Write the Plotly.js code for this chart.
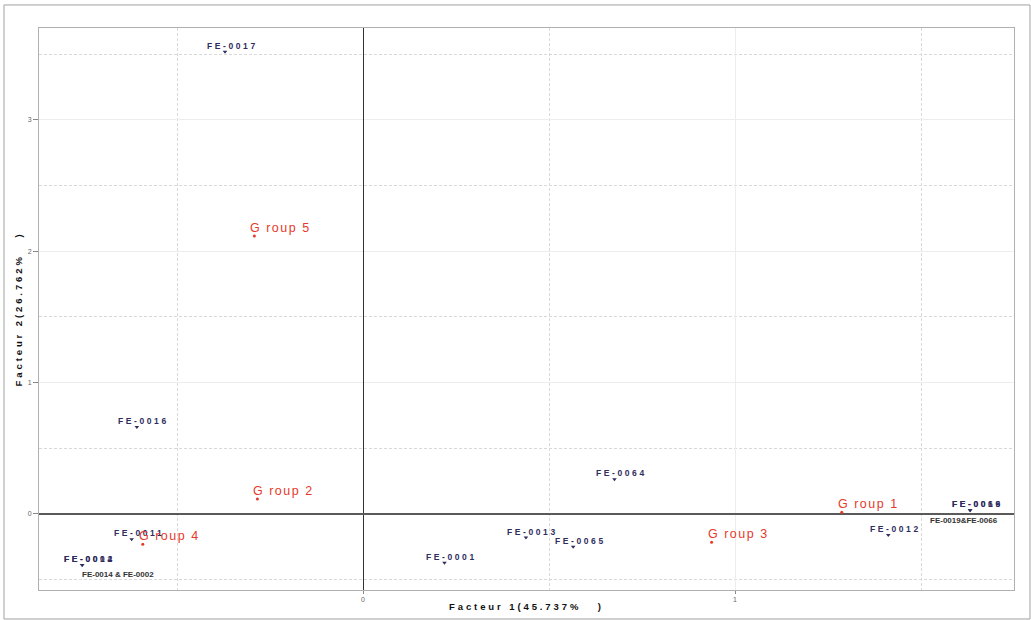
<!DOCTYPE html>
<html>
<head>
<meta charset="utf-8">
<script src="https://cdn.plot.ly/plotly-3.0.1.min.js"></script>
<style>
  html, body { margin: 0; padding: 0; background: #ffffff; }
  #chart { width: 1031px; height: 620px; }
  .xtitle, .ytitle { letter-spacing: 2.9px; }
</style>
</head>
<body>
<div id="chart"></div>
<script>
// Individuals projected on the first factorial plane
const individualLabels = ['FE-0017', 'FE-0016', 'FE-0011', 'FE-0014', 'FE-0002', 'FE-0001',
                          'FE-0013', 'FE-0065', 'FE-0064', 'FE-0012', 'FE-0019', 'FE-0066'];
const individualF1 = [-0.371, -0.608, -0.622, -0.755, -0.755, 0.219,
                       0.438,  0.565,  0.676,  1.412,  1.632, 1.632];
const individualF2 = [ 3.519,  0.662, -0.193, -0.388, -0.388, -0.371,
                      -0.180, -0.249,  0.264, -0.160,  0.028, 0.028];

// Group centres
const groupLabels = ['G roup 1', 'G roup 2', 'G roup 3', 'G roup 4', 'G roup 5'];
const groupF1 = [1.287, -0.284, 0.937, -0.592, -0.292];
const groupF2 = [0.013,  0.114, -0.216, -0.231, 2.117];

// Notes naming individuals that share the same position
const noteLabels = ['FE-0014 & FE-0002', 'FE-0019&FE-0066'];
const noteAnchors = ['FE-0014', 'FE-0019'];

// Axis ticks and titles
const xTickValues = [0, 1];
const yTickValues = [0, 1, 2, 3];
const xTitle = 'Facteur 1(45.737%\u00a0\u00a0\u00a0)';
const yTitle = 'Facteur 2(26.762%\u00a0\u00a0\u00a0)';

const navy = '#2e2d5e';
const red = '#e5392c';

const traces = [
  {
    type: 'scatter', mode: 'markers',
    x: individualF1, y: individualF2, text: individualLabels,
    marker: { symbol: 'triangle-down', size: 4, color: navy },
    hoverinfo: 'text', cliponaxis: false
  },
  {
    type: 'scatter', mode: 'markers',
    x: groupF1, y: groupF2, text: groupLabels,
    marker: { symbol: 'circle', size: 3, color: red },
    hoverinfo: 'text', cliponaxis: false
  }
];

const annotations = [];
individualLabels.forEach((lab, i) => {
  annotations.push({
    x: individualF1[i], y: individualF2[i], text: lab, showarrow: false,
    xanchor: 'center', yanchor: 'middle', xshift: 7, yshift: 6,
    font: { family: 'Liberation Sans, Arial, sans-serif', size: 8.5, color: navy, weight: 'bold' }
  });
});
groupLabels.forEach((lab, i) => {
  annotations.push({
    x: groupF1[i], y: groupF2[i], text: lab, showarrow: false,
    xanchor: 'center', yanchor: 'middle', xshift: 26.5, yshift: 8,
    font: { family: 'Liberation Sans, Arial, sans-serif', size: 12.5, color: red }
  });
});
noteLabels.forEach((lab, i) => {
  const k = individualLabels.indexOf(noteAnchors[i]);
  annotations.push({
    x: individualF1[k], y: individualF2[k], text: lab, showarrow: false,
    xanchor: 'center', yanchor: 'middle', xshift: i === 0 ? 36 : -6, yshift: -10,
    font: { family: 'Liberation Sans, Arial, sans-serif', size: 8, color: '#333333', weight: 'bold' }
  });
});

// Letter spacing per annotation kind (annotation groups carry data-index)
const nInd = individualLabels.length, nGrp = groupLabels.length;
let css = '';
for (let i = 0; i < nInd; i++) css += `.annotation[data-index="${i}"] .annotation-text{letter-spacing:2.6px;}`;
for (let i = nInd; i < nInd + nGrp; i++) css += `.annotation[data-index="${i}"] .annotation-text{letter-spacing:1.5px;}`;
const styleEl = document.createElement('style');
styleEl.textContent = css;
document.head.appendChild(styleEl);

const gridMinor = { dtick: 0.5, showgrid: true, gridcolor: '#d9d9d9', griddash: '3px,2px', gridwidth: 1, ticks: '' };

const layout = {
  width: 1031, height: 620,
  margin: { l: 39, r: 17, t: 28, b: 30 },
  paper_bgcolor: '#ffffff', plot_bgcolor: '#ffffff',
  showlegend: false,
  font: { family: 'Liberation Sans, Arial, sans-serif', color: '#666666' },
  xaxis: {
    range: [-0.871, 1.750], tickvals: xTickValues, ticktext: xTickValues.map(String),
    showgrid: true, gridcolor: '#ededed', gridwidth: 1,
    minor: gridMinor,
    zeroline: true, zerolinecolor: '#333333', zerolinewidth: 1,
    showline: true, mirror: true, linecolor: '#b0b0b0', linewidth: 1,
    ticks: 'outside', ticklen: 3, tickcolor: '#888888',
    tickfont: { size: 7, color: '#666666' },
    title: { text: xTitle, standoff: 0,
             font: { family: 'Liberation Sans, Arial, sans-serif', size: 9.5, color: '#111111', weight: 'bold' } }
  },
  yaxis: {
    range: [-0.579, 3.700], tickvals: yTickValues, ticktext: yTickValues.map(String),
    showgrid: true, gridcolor: '#ededed', gridwidth: 1,
    minor: gridMinor,
    zeroline: true, zerolinecolor: '#5a5a5a', zerolinewidth: 1.5,
    showline: true, mirror: true, linecolor: '#b0b0b0', linewidth: 1,
    ticks: 'outside', ticklen: 5, tickcolor: '#888888',
    tickfont: { size: 7, color: '#666666' },
    title: { text: yTitle, standoff: 3,
             font: { family: 'Liberation Sans, Arial, sans-serif', size: 9.5, color: '#111111', weight: 'bold' } }
  },
  annotations: annotations,
  shapes: [{
    type: 'rect', xref: 'paper', yref: 'paper',
    x0: -0.0359, x1: 1.0164, y0: -0.0516, y1: 1.041,
    line: { color: '#a0a0a0', width: 1 }, fillcolor: 'rgba(0,0,0,0)', layer: 'below'
  }]
};

Plotly.newPlot('chart', traces, layout, { displayModeBar: false, staticPlot: true });
</script>
</body>
</html>
